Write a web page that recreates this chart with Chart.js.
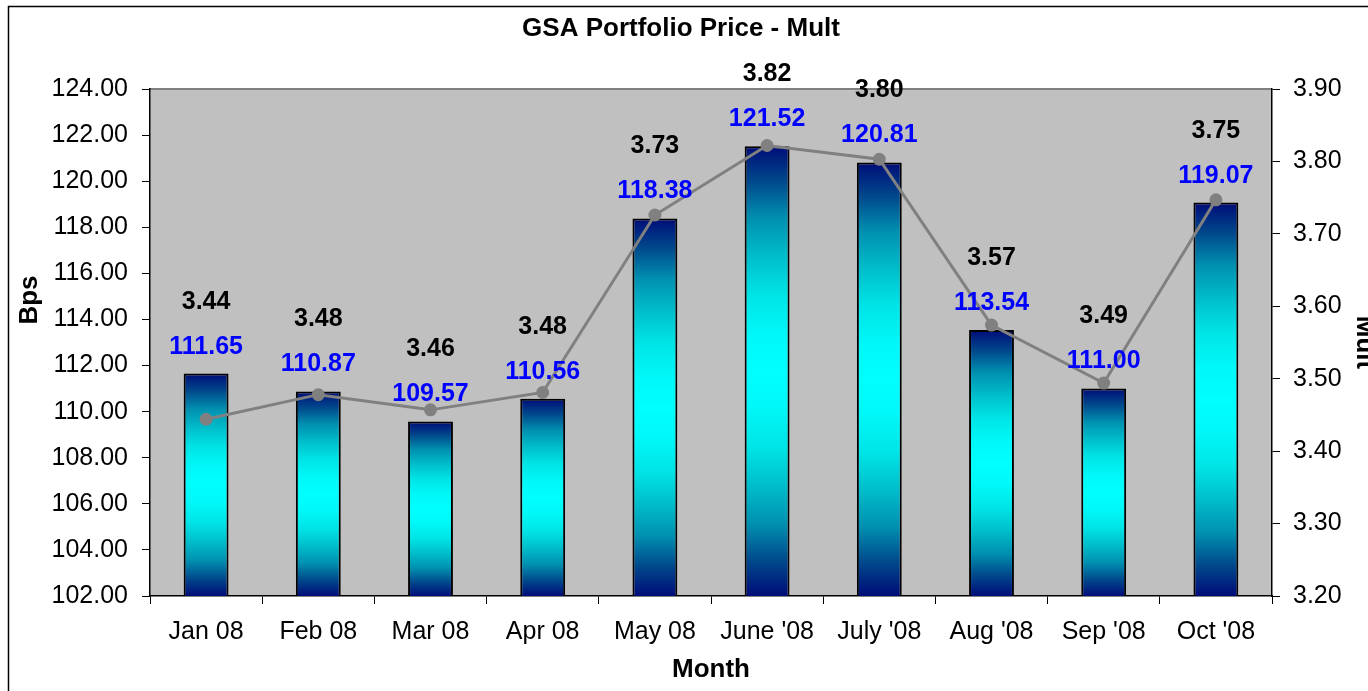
<!DOCTYPE html>
<html>
<head>
<meta charset="utf-8">
<title>GSA Portfolio Price - Mult</title>
<script src="https://cdn.jsdelivr.net/npm/chart.js@4.4.1/dist/chart.umd.min.js"></script>
<style>
  html, body { margin: 0; padding: 0; background: #fff; }
  #wrap { width: 1368px; height: 691px; position: relative; }
</style>
</head>
<body>
<div id="wrap"><canvas id="priceChart"></canvas></div>
<script>
// Chart data
const months = ["Jan 08", "Feb 08", "Mar 08", "Apr 08", "May 08", "June '08", "July '08", "Aug '08", "Sep '08", "Oct '08"];
const priceBps = [111.65, 110.87, 109.57, 110.56, 118.38, 121.52, 120.81, 113.54, 111.00, 119.07];
const multValues = [3.444, 3.478, 3.457, 3.481, 3.726, 3.822, 3.803, 3.574, 3.494, 3.747];

// Axis ranges / tick labels
const bpsMin = 102, bpsMax = 124, bpsStep = 2;
const multMin = 3.2, multMax = 3.9, multStep = 0.1;

const chartTitle = "GSA Portfolio Price - Mult";
const leftTitle = "Bps";
const rightTitle = "Mult";
const bottomTitle = "Month";

const FONT = "'Liberation Sans', Arial, sans-serif";
Chart.defaults.font.family = FONT;
Chart.defaults.color = "#000";

const tickFont = { size: 25 };

// Navy -> cyan -> navy gradient across each bar's height (eased, like Excel's fill)
const gradientStops = [
  [0, "#000c78"], [0.08, "#004a8c"], [0.16, "#0090b0"], [0.25, "#00c0cc"],
  [0.33, "#00e4e6"], [0.42, "#00f8f8"], [0.5, "#00ffff"]
];

function barGradient(context) {
  const chart = context.chart;
  const area = chart.chartArea;
  if (!area || context.type !== "data") return "#00ffff";
  const yScale = chart.scales.y;
  const top = yScale.getPixelForValue(priceBps[context.dataIndex]);
  const g = chart.ctx.createLinearGradient(0, top, 0, area.bottom);
  gradientStops.forEach(([t, c]) => {
    g.addColorStop(t, c);
    g.addColorStop(1 - t, c);
  });
  return g;
}

// Background, frame, value labels and titles
const decorPlugin = {
  id: "decor",
  beforeDraw(chart) {
    const { ctx, chartArea: a } = chart;
    ctx.save();
    ctx.fillStyle = "#fff";
    ctx.fillRect(0, 0, chart.width, chart.height);
    // outer frame
    ctx.strokeStyle = "#000";
    ctx.lineWidth = 1.5;
    ctx.strokeRect(8.5, 6.5, chart.width + 20, chart.height + 20);
    // plot area
    ctx.fillStyle = "#c0c0c0";
    ctx.fillRect(a.left, a.top, a.right - a.left, a.bottom - a.top);
    ctx.strokeStyle = "#808080";
    ctx.lineWidth = 2;
    ctx.beginPath();
    ctx.moveTo(a.left, a.top);
    ctx.lineTo(a.right, a.top);
    ctx.stroke();
    ctx.restore();
  },
  afterDatasetsDraw(chart) {
    const { ctx } = chart;
    const bars = chart.getDatasetMeta(1).data;
    ctx.save();
    ctx.textAlign = "center";
    ctx.textBaseline = "middle";
    ctx.font = "bold 25px " + FONT;
    bars.forEach((bar, i) => {
      const priceY = bar.y - 27;
      ctx.fillStyle = "#0000ff";
      ctx.fillText(priceBps[i].toFixed(2), bar.x, priceY);
      ctx.fillStyle = "#000";
      ctx.fillText(multValues[i].toFixed(2), bar.x, priceY - 45);
    });
    ctx.restore();
  },
  afterDraw(chart) {
    const { ctx, chartArea: a } = chart;
    ctx.save();
    ctx.fillStyle = "#000";
    ctx.textAlign = "center";
    ctx.textBaseline = "middle";
    ctx.font = "bold 26px " + FONT;
    ctx.fillText(chartTitle, 681, 29);
    ctx.fillText(bottomTitle, (a.left + a.right) / 2, 670);

    ctx.save();
    ctx.translate(30, 300);
    ctx.rotate(-Math.PI / 2);
    ctx.fillText(leftTitle, 0, 0);
    ctx.restore();

    ctx.save();
    ctx.translate(1364, (a.top + a.bottom) / 2);
    ctx.rotate(Math.PI / 2);
    ctx.fillText(rightTitle, 0, 0);
    ctx.restore();
    ctx.restore();
  }
};

const chartCanvas = document.getElementById("priceChart");

new Chart(chartCanvas, {
  type: "bar",
  data: {
    labels: months,
    datasets: [
      {
        type: "line",
        label: "Mult",
        data: multValues,
        yAxisID: "y1",
        borderColor: "#808080",
        borderWidth: 3,
        pointRadius: 5,
        pointBackgroundColor: "#808080",
        pointBorderColor: "#808080",
        tension: 0,
        order: 0
      },
      {
        type: "bar",
        label: "Bps",
        data: priceBps,
        yAxisID: "y",
        backgroundColor: barGradient,
        borderColor: "#000",
        borderWidth: 2,
        borderSkipped: false,
        barPercentage: 0.4,
        categoryPercentage: 1,
        order: 1
      }
    ]
  },
  options: {
    responsive: true,
    maintainAspectRatio: false,
    animation: false,
    layout: { padding: { top: 89, left: 0, right: 0, bottom: 0 } },
    plugins: {
      legend: { display: false },
      tooltip: { enabled: false },
      title: { display: false }
    },
    scales: {
      x: {
        offset: true,
        grid: { offset: true, drawOnChartArea: false, tickLength: 8, color: "#000" },
        border: { color: "#000", width: 1.5 },
        ticks: { font: tickFont, color: "#000", padding: 13, maxRotation: 0, autoSkip: false },
        afterFit: (scale) => { scale.height = 95; }
      },
      y: {
        position: "left",
        min: bpsMin,
        max: bpsMax,
        grid: { drawOnChartArea: false, tickLength: 8, color: "#000" },
        border: { color: "#000", width: 1.5 },
        ticks: {
          stepSize: bpsStep,
          font: tickFont,
          color: "#000",
          padding: 14,
          callback: (v) => Number(v).toFixed(2)
        },
        afterFit: (scale) => { scale.width = 150; }
      },
      y1: {
        position: "right",
        min: multMin,
        max: multMax,
        grid: { drawOnChartArea: false, tickLength: 8, color: "#000" },
        border: { color: "#000", width: 1.5 },
        ticks: {
          stepSize: multStep,
          font: tickFont,
          color: "#000",
          padding: 13,
          callback: (v) => Number(v).toFixed(2)
        },
        afterFit: (scale) => { scale.width = 96; }
      }
    }
  },
  plugins: [decorPlugin]
});
</script>
</body>
</html>
